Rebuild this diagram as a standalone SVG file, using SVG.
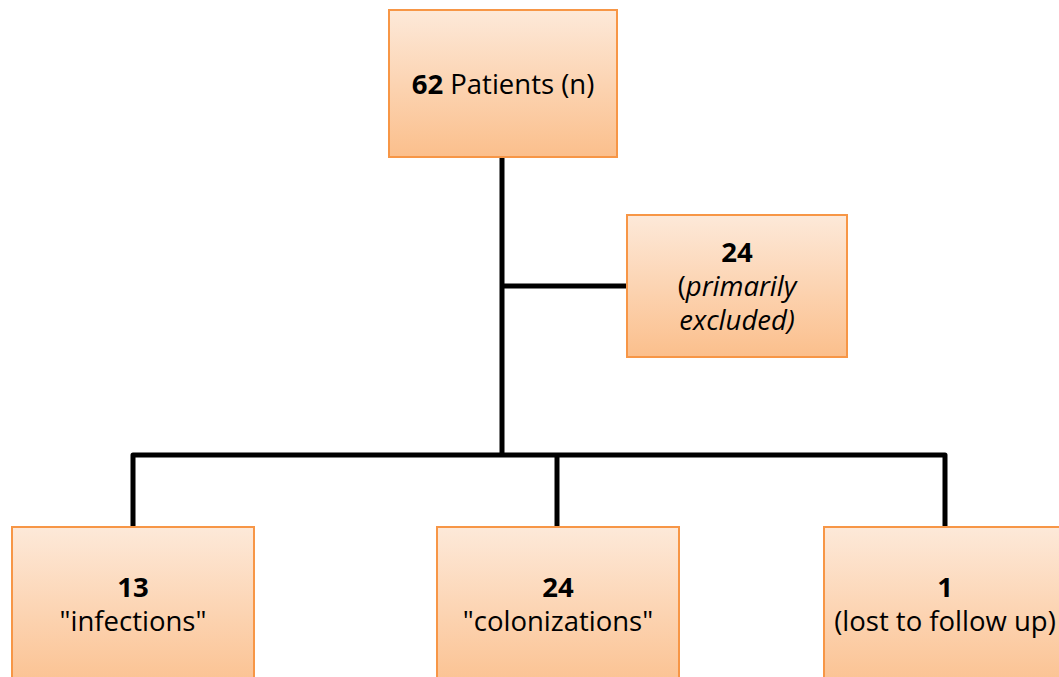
<svg xmlns="http://www.w3.org/2000/svg" width="1059" height="677" viewBox="0 0 1059 677">
<defs>
<linearGradient id="g" x1="0" y1="0" x2="0" y2="1">
<stop offset="0" stop-color="#fde9d9"/>
<stop offset="1" stop-color="#fbbf8c"/>
</linearGradient>
</defs>
<style>
.box{fill:url(#g);stroke:#f79646;stroke-width:2}
.t{font-family:"Open Sans","Liberation Sans",sans-serif;font-size:27.5px;fill:#000;text-anchor:middle}
.b{font-weight:bold}
.i{font-style:italic}
.c{fill:none;stroke:#000;stroke-width:5;stroke-linejoin:round}
</style>
<rect width="1059" height="677" fill="#fff"/>
<g id="connectors">
<path class="c" d="M502 158 V455"/>
<path class="c" d="M502 286 H627"/>
<path class="c" d="M133 527 V455 H945 V527"/>
<path class="c" d="M557 455 V527"/>
</g>
<g id="patients">
<rect class="box" x="389" y="10" width="228" height="147"/>
<text class="t" x="503" y="94"><tspan class="b">62</tspan> Patients (n)</text>
</g>
<g id="excluded">
<rect class="box" x="627" y="215" width="220" height="142"/>
<text class="t b" x="737" y="262">24</text>
<text class="t" x="737" y="296">(<tspan class="i">primarily</tspan></text>
<text class="t i" x="737" y="330">excluded)</text>
</g>
<g id="infections">
<rect class="box" x="12" y="527" width="242" height="170"/>
<text class="t b" x="133" y="597">13</text>
<text class="t" x="133" y="631">"infections"</text>
</g>
<g id="colonizations">
<rect class="box" x="437" y="527" width="242" height="170"/>
<text class="t b" x="558" y="597">24</text>
<text class="t" x="558" y="631">"colonizations"</text>
</g>
<g id="lost">
<rect class="box" x="824" y="527" width="242" height="170"/>
<text class="t b" x="945" y="597">1</text>
<text class="t" x="945" y="631">(lost to follow up)</text>
</g>
</svg>
